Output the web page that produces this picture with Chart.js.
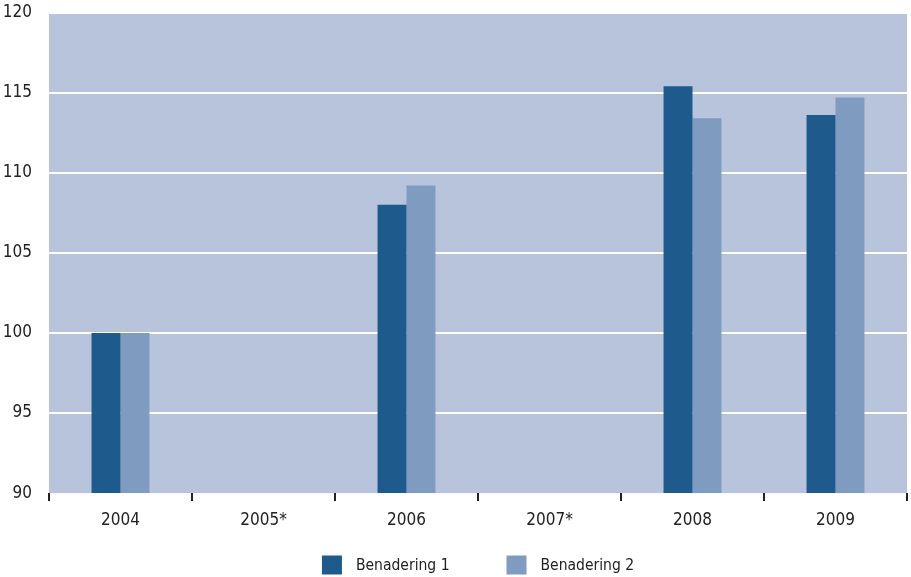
<!DOCTYPE html>
<html>
<head>
<meta charset="utf-8">
<script src="https://cdn.jsdelivr.net/npm/chart.js@4/dist/chart.umd.min.js"></script>
<style>
  html, body { margin: 0; padding: 0; background: #ffffff; }
  #wrap { width: 911px; height: 577px; }
</style>
</head>
<body>
<div id="wrap"><canvas id="c" width="911" height="577"></canvas></div>
<script>
// Index values per year for the two approaches
const years = ['2004', '2005*', '2006', '2007*', '2008', '2009'];
const benadering1 = [100, null, 108.0, null, 115.4, 113.6];
const benadering2 = [100, null, 109.2, null, 113.4, 114.7];
const yTicks = [90, 95, 100, 105, 110, 115, 120];

const FONT = '"DejaVu Sans Condensed", "Liberation Sans Narrow", "DejaVu Sans", sans-serif';
const TEXT = '#222222';

// Fill the plotting area with the pale blue backdrop
const plotBackground = {
  id: 'plotBackground',
  beforeDraw(chart) {
    const { ctx, chartArea: a } = chart;
    ctx.save();
    ctx.fillStyle = '#b8c4dc';
    ctx.fillRect(a.left, a.top, a.right - a.left, a.bottom - a.top);
    ctx.restore();
  }
};

// Legend row below the axis: square swatch + series name, centred under the plot
const bottomLegend = {
  id: 'bottomLegend',
  afterDraw(chart) {
    const { ctx, chartArea: a } = chart;
    const box = 20, gapText = 14, gapItem = 57, y = 565;
    ctx.save();
    ctx.font = '15.5px ' + FONT;
    ctx.textBaseline = 'middle';
    const items = chart.data.datasets.map(ds => ({
      label: ds.label, color: ds.backgroundColor, w: ctx.measureText(ds.label).width
    }));
    const total = items.reduce((s, it) => s + box + gapText + it.w, 0) + gapItem * (items.length - 1);
    let x = (a.left + a.right) / 2 - total / 2;
    items.forEach(it => {
      ctx.fillStyle = it.color;
      ctx.fillRect(x, y - 9.5, box, 19);
      ctx.fillStyle = TEXT;
      ctx.fillText(it.label, x + box + gapText, y + 1);
      x += box + gapText + it.w + gapItem;
    });
    ctx.restore();
  }
};

new Chart(document.getElementById('c'), {
  type: 'bar',
  data: {
    labels: years,
    datasets: [
      { label: 'Benadering 1', data: benadering1, backgroundColor: '#1f5a8c', borderWidth: 0 },
      { label: 'Benadering 2', data: benadering2, backgroundColor: '#7f9bc0', borderWidth: 0 }
    ]
  },
  options: {
    responsive: false,
    animation: false,
    devicePixelRatio: 1,
    layout: { padding: { left: 0, right: 4, top: 12.5, bottom: 37.5 } },
    datasets: { bar: { categoryPercentage: 0.405, barPercentage: 1.0 } },
    plugins: {
      tooltip: { enabled: false },
      legend: { display: false }
    },
    scales: {
      x: {
        offset: true,
        border: { display: false },
        grid: {
          offset: true,
          drawOnChartArea: false,
          drawTicks: true,
          tickLength: 8,
          color: TEXT,
          lineWidth: 2
        },
        ticks: {
          color: TEXT,
          font: { family: FONT, size: 17 },
          padding: 9,
          maxRotation: 0
        }
      },
      y: {
        min: 90,
        max: 120,
        afterBuildTicks(scale) { scale.ticks = yTicks.map(v => ({ value: v })); },
        afterFit(scale) { scale.paddingTop = 0; scale.paddingBottom = 0; scale.width = 49; },
        border: { display: false },
        grid: {
          drawTicks: false,
          lineWidth: 2,
          color: ctx => (ctx.tick && ctx.tick.value === 90) ? 'rgba(0,0,0,0)' : '#ffffff'
        },
        ticks: {
          color: TEXT,
          font: { family: FONT, size: 17 },
          padding: 17
        }
      }
    }
  },
  plugins: [plotBackground, bottomLegend]
});
</script>
</body>
</html>
